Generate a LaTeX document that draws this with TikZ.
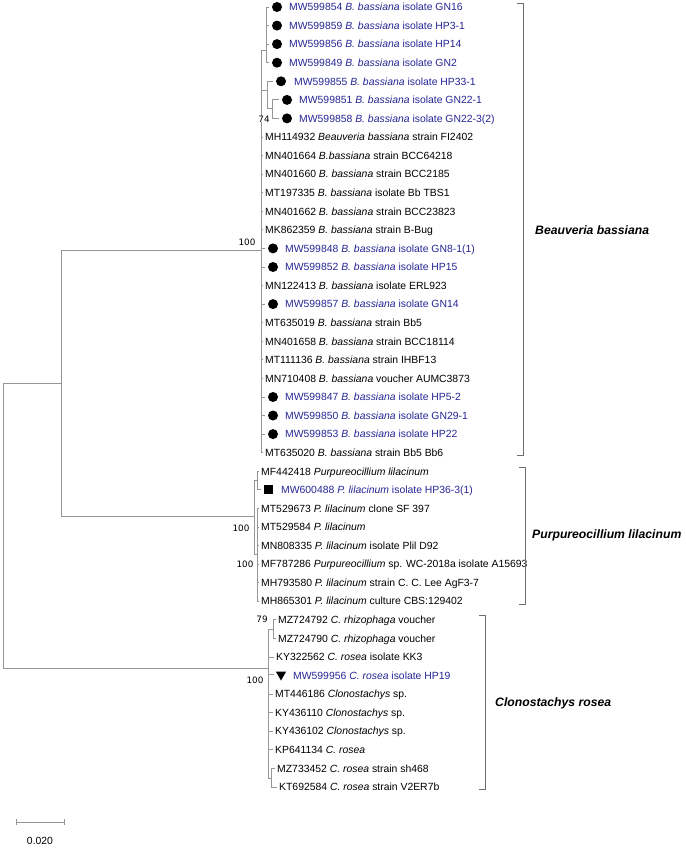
\documentclass[tikz,border=0pt]{standalone}
\usepackage{fontspec}
\setmainfont{Liberation Sans}
\newfontfamily\bootfont{DejaVu Sans}
\usetikzlibrary{shapes.geometric}
\definecolor{acc}{RGB}{38,38,150}
\definecolor{treegray}{RGB}{150,150,150}
\definecolor{brkgray}{RGB}{110,110,110}
\begin{document}
\begin{tikzpicture}[x=1pt,y=-1pt,
  lab/.style={anchor=west,inner sep=0pt,text height=7.5pt,text depth=0pt,font=\fontsize{10.4}{12}\selectfont},
  blu/.style={lab,text=acc},
  br/.style={draw=treegray,line width=0.9pt},
  brk/.style={draw=brkgray,line width=0.9pt},
  boot/.style={inner sep=0pt,font=\bootfont\fontsize{8.8}{10}\selectfont},
  clade/.style={anchor=west,inner sep=0pt,font=\fontsize{12.2}{14}\selectfont\bfseries\itshape},
  dotm/.style={circle,fill=black,inner sep=0pt,minimum size=10pt},
  sqm/.style={rectangle,fill=black,inner sep=0pt,minimum size=9pt},
  trim/.style={regular polygon,regular polygon sides=3,shape border rotate=180,fill=black,inner sep=0pt,minimum size=12pt}]
\fill[white] (0,0) rectangle (685,848);
\path[use as bounding box] (0,0) rectangle (685,848);

% ---------- Beauveria leaves ----------
\node[dotm] (m0) at (277,7) {};
\node[blu] (l0) at (289,7) {MW599854 \textit{B. bassiana} isolate GN16};
\node[dotm] (m1) at (277,25.6) {};
\node[blu] (l1) at (289,25.6) {MW599859 \textit{B. bassiana} isolate HP3-1};
\node[dotm] (m2) at (277,44.1) {};
\node[blu] (l2) at (289,44.1) {MW599856 \textit{B. bassiana} isolate HP14};
\node[dotm] (m3) at (277,62.7) {};
\node[blu] (l3) at (289,62.7) {MW599849 \textit{B. bassiana} isolate GN2};
\node[dotm] (m4) at (281,81.3) {};
\node[blu] (l4) at (294,81.3) {MW599855 \textit{B. bassiana} isolate HP33-1};
\node[dotm] (m5) at (287,99.9) {};
\node[blu] (l5) at (299,99.9) {MW599851 \textit{B. bassiana} isolate GN22-1};
\node[dotm] (m6) at (287,118.4) {};
\node[blu] (l6) at (299,118.4) {MW599858 \textit{B. bassiana} isolate GN22-3(2)};
\node[lab] (l7) at (265,137) {MH114932 \textit{Beauveria bassiana} strain FI2402};
\node[lab] (l8) at (265,155.6) {MN401664 \textit{B.bassiana} strain BCC64218};
\node[lab] (l9) at (265,174.1) {MN401660 \textit{B. bassiana} strain BCC2185};
\node[lab] (l10) at (265,192.7) {MT197335 \textit{B. bassiana} isolate Bb TBS1};
\node[lab] (l11) at (265,211.3) {MN401662 \textit{B. bassiana} strain BCC23823};
\node[lab] (l12) at (265,229.8) {MK862359 \textit{B. bassiana} strain B-Bug};
\node[dotm] (m13) at (273,248.4) {};
\node[blu] (l13) at (285,248.4) {MW599848 \textit{B. bassiana} isolate GN8-1(1)};
\node[dotm] (m14) at (273,267) {};
\node[blu] (l14) at (285,267) {MW599852 \textit{B. bassiana} isolate HP15};
\node[lab] (l15) at (265,285.6) {MN122413 \textit{B. bassiana} isolate ERL923};
\node[dotm] (m16) at (273,304.1) {};
\node[blu] (l16) at (285,304.1) {MW599857 \textit{B. bassiana} isolate GN14};
\node[lab] (l17) at (265,322.7) {MT635019 \textit{B. bassiana} strain Bb5};
\node[lab] (l18) at (265,341.3) {MN401658 \textit{B. bassiana} strain BCC18114};
\node[lab] (l19) at (265,359.8) {MT111136 \textit{B. bassiana} strain IHBF13};
\node[lab] (l20) at (265,378.4) {MN710408 \textit{B. bassiana} voucher AUMC3873};
\node[dotm] (m21) at (273,397) {};
\node[blu] (l21) at (285,397) {MW599847 \textit{B. bassiana} isolate HP5-2};
\node[dotm] (m22) at (273,415.5) {};
\node[blu] (l22) at (285,415.5) {MW599850 \textit{B. bassiana} isolate GN29-1};
\node[dotm] (m23) at (273,434.1) {};
\node[blu] (l23) at (285,434.1) {MW599853 \textit{B. bassiana} isolate HP22};
\node[lab] (l24) at (265,452.7) {MT635020 \textit{B. bassiana} strain Bb5 Bb6};

% ---------- Purpureocillium leaves ----------
\node[lab] (l25) at (261,471.3) {MF442418 \textit{Purpureocillium lilacinum}};
\node[sqm] (m26) at (268,489.8) {};
\node[blu] (l26) at (281,489.8) {MW600488 \textit{P. lilacinum} isolate HP36-3(1)};
\node[lab] (l27) at (261,508.4) {MT529673 \textit{P. lilacinum} clone SF 397};
\node[lab] (l28) at (261,527) {MT529584 \textit{P. lilacinum}};
\node[lab] (l29) at (261,545.5) {MN808335 \textit{P. lilacinum} isolate Plil D92};
\node[lab] (l30) at (261,564.1) {MF787286 \textit{Purpureocillium} sp. WC-2018a isolate A15693};
\node[lab] (l31) at (261,582.7) {MH793580 \textit{P. lilacinum} strain C. C. Lee AgF3-7};
\node[lab] (l32) at (261,601.2) {MH865301 \textit{P. lilacinum} culture CBS:129402};

% ---------- Clonostachys leaves ----------
\node[lab] (l33) at (278,619.8) {MZ724792 \textit{C. rhizophaga} voucher};
\node[lab] (l34) at (278,638.4) {MZ724790 \textit{C. rhizophaga} voucher};
\node[lab] (l35) at (276,657) {KY322562 \textit{C. rosea} isolate KK3};
\node[trim] (m36) at (281,674.5) {};
\node[blu] (l36) at (293,675.5) {MW599956 \textit{C. rosea} isolate HP19};
\node[lab] (l37) at (275,694.1) {MT446186 \textit{Clonostachys} sp.};
\node[lab] (l38) at (275,712.7) {KY436110 \textit{Clonostachys} sp.};
\node[lab] (l39) at (275,731.2) {KY436102 \textit{Clonostachys} sp.};
\node[lab] (l40) at (275,749.8) {KP641134 \textit{C. rosea}};
\node[lab] (l41) at (277,768.4) {MZ733452 \textit{C. rosea} strain sh468};
\node[lab] (l42) at (279,787) {KT692584 \textit{C. rosea} strain V2ER7b};

% ---------- internal nodes ----------
\coordinate (R) at (3,383);
\coordinate (N1) at (61,383);
\coordinate (B) at (261,250);
\coordinate (S1) at (266,50);
\coordinate (S2) at (267,90);
\coordinate (S3) at (272,108);
\coordinate (P) at (254,516);
\coordinate (PA) at (257,480.5);
\coordinate (PB) at (257,554);
\coordinate (C) at (268,668);
\coordinate (CA) at (273,629);
\coordinate (CB) at (271,778);

% root
\draw[br] (R) -- (R |- C) -- (C);
\draw[br] (R) -- (N1);
% N1
\draw[br] (B) -- (N1 |- B) -- (N1 |- P) -- (P);
% Beauveria
\draw[br] (B |- S1) -- (B |- l24.west);
\draw[br] (B |- S1) -- (S1);
\draw[br] (B |- S2) -- (S2);
\draw[br] (S1 |- m0) -- (S1 |- m3);
\foreach \k in {0,1,2,3} {\draw[br] (S1 |- m\k) -- ([xshift=-3pt]m\k.west);}
\draw[br] (S2 |- m4) -- (S2 |- S3) -- (S3);
\draw[br] (S2 |- m4) -- ([xshift=-3pt]m4.west);
\draw[br] (S3 |- m5) -- (S3 |- m6);
\foreach \k in {5,6} {\draw[br] (S3 |- m\k) -- ([xshift=-3pt]m\k.west);}
\foreach \k in {7,8,9,10,11,12,15,17,18,19,20,24} {\draw[br] (B |- l\k.west) -- ([xshift=-2pt]l\k.west);}
\foreach \k in {13,14,16,21,22,23} {\draw[br] (B |- m\k) -- ([xshift=-3pt]m\k.west);}
% Purpureocillium
\draw[br] (P |- PA) -- (P |- PB);
\draw[br] (P |- PA) -- (PA);
\draw[br] (P |- PB) -- (PB);
\draw[br] (PA |- l25.west) -- (PA |- m26);
\draw[br] (PA |- l25.west) -- ([xshift=-2pt]l25.west);
\draw[br] (PA |- m26) -- ([xshift=-2pt]m26.west);
\draw[br] (PB |- l27.west) -- (PB |- l32.west);
\foreach \k in {27,28,29,30,31,32} {\draw[br] (PB |- l\k.west) -- ([xshift=-2pt]l\k.west);}
% Clonostachys
\draw[br] (C |- CA) -- (C |- CB);
\draw[br] (C |- CA) -- (CA);
\draw[br] (C |- CB) -- (CB);
\draw[br] (CA |- l33.west) -- (CA |- l34.west);
\foreach \k in {33,34} {\draw[br] (CA |- l\k.west) -- ([xshift=-2pt]l\k.west);}
\foreach \k in {35,37,38,39,40} {\draw[br] (C |- l\k.west) -- ([xshift=-2pt]l\k.west);}
\draw[br] (C |- m36) -- ([xshift=-3pt]m36.west);
\draw[br] (CB |- l41.west) -- (CB |- l42.west);
\foreach \k in {41,42} {\draw[br] (CB |- l\k.west) -- ([xshift=-2pt]l\k.west);}

% bootstrap values
\node[boot,fill=white] (bs74) at (264,119) {74};
\node[boot] (bsB) at (247,242) {100};
\node[boot] (bsP1) at (241,528) {100};
\node[boot] (bsP2) at (245,564) {100};
\node[boot] (bs79) at (262,619) {79};
\node[boot] (bsC) at (255,680) {100};

% brackets
\coordinate (k1a) at (523,3);
\coordinate (k1b) at (523,455);
\coordinate (k2a) at (525,467);
\coordinate (k2b) at (525,604);
\coordinate (k3a) at (485,615);
\coordinate (k3b) at (485,789);
\draw[brk] ([xshift=-6pt]k1a) -- (k1a) -- (k1b) -- ([xshift=-6pt]k1b);
\draw[brk] ([xshift=-6pt]k2a) -- (k2a) -- (k2b) -- ([xshift=-6pt]k2b);
\draw[brk] ([xshift=-6pt]k3a) -- (k3a) -- (k3b) -- ([xshift=-6pt]k3b);

% clade labels
\node[clade] (cl1) at (535,230) {Beauveria bassiana};
\node[clade] (cl2) at (532,535) {Purpureocillium lilacinum};
\node[clade] (cl3) at (495,703) {Clonostachys rosea};

% scale bar
\coordinate (sbL) at (16,822);
\coordinate (sbR) at (64,822);
\draw[br] (sbL) -- (sbR);
\draw[br] ([yshift=-3pt]sbL) -- ([yshift=3pt]sbL);
\draw[br] ([yshift=-3pt]sbR) -- ([yshift=3pt]sbR);
\node[lab,anchor=center] (sblab) at (40,841) {0.020};
\end{tikzpicture}
\end{document}
